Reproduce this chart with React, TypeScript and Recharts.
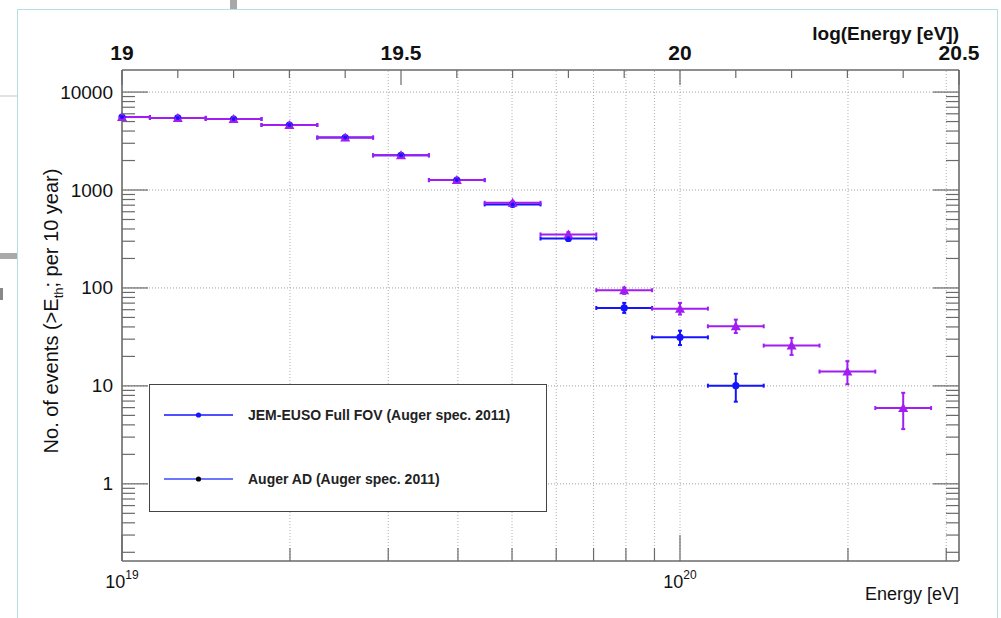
import React from 'react';
import { ScatterChart, Scatter, XAxis, YAxis, ErrorBar, ReferenceLine } from 'recharts';

// ---- data ----
const logEnergy = [19.0, 19.1, 19.2, 19.3, 19.4, 19.5, 19.6, 19.7, 19.8, 19.9, 20.0, 20.1, 20.2, 20.3, 20.4];
const augerAD = [5560, 5450, 5310, 4610, 3430, 2260, 1262, 740, 352, 94.8, 61.5, 40.6, 25.8, 14.0, 5.94];
const augerADLow = [5485, 5376, 5237, 4542, 3371, 2212, 1226, 713, 333, 87, 53.5, 34.7, 20.7, 10.4, 3.62];
const augerADHigh = [5635, 5524, 5383, 4678, 3489, 2308, 1298, 767, 371, 101, 70.4, 47.5, 30.9, 17.9, 8.5];
const jemEuso = [5560, 5450, 5310, 4610, 3430, 2260, 1262, 713, 320, 62.5, 31.3, 10.05];
const jemEusoLow = [5485, 5376, 5237, 4542, 3371, 2212, 1226, 686, 302, 55.6, 26.1, 6.9];
const jemEusoHigh = [5635, 5524, 5383, 4678, 3489, 2308, 1298, 740, 338, 70.4, 36.6, 13.3];
const binHalfWidth = 0.05;

// ---- axes ----
const energyTicks = [1e19, 2e19, 3e19, 4e19, 5e19, 6e19, 7e19, 8e19, 9e19, 1e20, 2e20, 3e20];
const majorEnergyExp = [19, 20];
const topTicks = [19.0, 19.1, 19.2, 19.3, 19.4, 19.5, 19.6, 19.7, 19.8, 19.9, 20.0, 20.1, 20.2, 20.3, 20.4, 20.5];
const topLabels = ['19', '19.5', '20', '20.5'];
const majorCounts = [1, 10, 100, 1000, 10000];
const minorMultipliers = [2, 3, 4, 5, 6, 7, 8, 9];
const xDomain = [19, 20.5];
const yDomain = [0.163, 16800];

const VIOLET = '#a21df2';
const BLUE = '#1414ff';
const AXIS = '#6a6a6a';
const FONT = '"Liberation Sans", Arial, Helvetica, sans-serif';

const countTicks: number[] = [];
[0.1, 1, 10, 100, 1000].forEach((d) => {
  if (d >= 1) countTicks.push(d);
  minorMultipliers.forEach((m) => countTicks.push(+(d * m).toPrecision(6)));
});
countTicks.push(10000);

const bottomTickValues = energyTicks.map((e) => Math.log10(e));
const gridX = bottomTickValues.slice(1);

const violetData = logEnergy.map((x, i) => ({
  x,
  y: augerAD[i],
  xe: [Math.min(binHalfWidth, x - xDomain[0]), binHalfWidth],
  ye: [augerAD[i] - augerADLow[i], augerADHigh[i] - augerAD[i]],
}));
const blueData = jemEuso.map((y, i) => ({
  x: logEnergy[i],
  y,
  xe: [Math.min(binHalfWidth, logEnergy[i] - xDomain[0]), binHalfWidth],
  ye: [y - jemEusoLow[i], jemEusoHigh[i] - y],
}));

const isMajorCount = (v: number) => majorCounts.some((m) => Math.abs(m - v) / m < 1e-6);

const LeftTick = (props: any) => {
  const { x, y, payload } = props;
  const v = payload.value;
  const major = isMajorCount(v);
  return (
    <g>
      <line x1={x} x2={x + (major ? 26 : 13)} y1={y} y2={y} stroke={AXIS} strokeWidth={1.2} />
      {major && (
        <text x={x - 9} y={y} textAnchor="end" dominantBaseline="central" fontSize={19} fontFamily={FONT} fill="#111">
          {String(v)}
        </text>
      )}
    </g>
  );
};

const RightTick = (props: any) => {
  const { x, y, payload } = props;
  const major = isMajorCount(payload.value);
  return <line x1={x} x2={x - (major ? 26 : 13)} y1={y} y2={y} stroke={AXIS} strokeWidth={1.2} />;
};

const BottomTick = (props: any) => {
  const { x, y, payload } = props;
  const v = payload.value;
  const exp = Math.round(v);
  const major = Math.abs(v - exp) < 1e-9 && majorEnergyExp.includes(exp);
  return (
    <g>
      <line x1={x} x2={x} y1={y} y2={y - (major ? 26 : 13)} stroke={AXIS} strokeWidth={1.2} />
      {major && (
        <text x={x} y={y + 27} textAnchor="middle" fontSize={18} fontFamily={FONT} fill="#111">
          <tspan>10</tspan>
          <tspan dy={-9} fontSize={12}>{exp}</tspan>
        </text>
      )}
    </g>
  );
};

const TopTick = (props: any) => {
  const { x, y, payload } = props;
  const v = payload.value;
  const lbl = topLabels.find((t) => Math.abs(parseFloat(t) - v) < 1e-6);
  const major = lbl !== undefined;
  return (
    <g>
      <line x1={x} x2={x} y1={y} y2={y + (major ? 15 : 8)} stroke={AXIS} strokeWidth={1.2} />
      {major && (
        <text x={x} y={y - 10} textAnchor="middle" fontSize={21} fontWeight="bold" fontFamily={FONT} fill="#111">
          {lbl}
        </text>
      )}
    </g>
  );
};

const TriangleShape = (props: any) => {
  const { cx, cy } = props;
  if (cx == null || cy == null) return <g />;
  return <polygon points={`${cx - 5},${cy + 4} ${cx + 5},${cy + 4} ${cx},${cy - 5}`} fill={VIOLET} />;
};
const EmptyShape = () => <g />;
const BigDotShape = (props: any) => {
  const { cx, cy } = props;
  if (cx == null || cy == null) return <g />;
  return <circle cx={cx} cy={cy} r={3.6} fill={BLUE} />;
};
const SmallDotShape = (props: any) => {
  const { cx, cy } = props;
  if (cx == null || cy == null) return <g />;
  return <circle cx={cx} cy={cy} r={2} fill={BLUE} />;
};

export default function App() {
  return (
    <div style={{ position: 'absolute', left: 0, top: 0, width: 1001, height: 618, background: '#fff', overflow: 'hidden', fontFamily: FONT }}>
      {/* slide frame and screenshot artifacts */}
      <div style={{ position: 'absolute', left: 17, top: 9, width: 981, height: 640, border: '1.5px solid #b5dfe3', boxSizing: 'border-box' }} />
      <div style={{ position: 'absolute', left: 230, top: 0, width: 7, height: 9, background: '#a8a8a8' }} />
      <div style={{ position: 'absolute', left: 0, top: 95, width: 17, height: 2, background: '#e2e2e2' }} />
      <div style={{ position: 'absolute', left: 0, top: 253, width: 17, height: 6, background: '#a9a9a9' }} />
      <div style={{ position: 'absolute', left: 0, top: 288, width: 3, height: 12, background: '#888' }} />

      <div style={{ position: 'absolute', left: 0, top: 0 }}>
        <ScatterChart width={1001} height={618} margin={{ top: 69, right: 41, bottom: 56, left: 121 }}>
          <XAxis
            xAxisId="bottom"
            dataKey="x"
            type="number"
            domain={xDomain}
            ticks={bottomTickValues}
            interval={0}
            height={1}
            tickSize={0}
            tickMargin={0}
            tickLine={false}
            tick={<BottomTick />}
            axisLine={{ stroke: AXIS, strokeWidth: 1.6 }}
          />
          <XAxis
            xAxisId="top"
            orientation="top"
            dataKey="x"
            type="number"
            domain={xDomain}
            ticks={topTicks}
            interval={0}
            height={1}
            tickSize={0}
            tickMargin={0}
            tickLine={false}
            tick={<TopTick />}
            axisLine={{ stroke: AXIS, strokeWidth: 1.6 }}
          />
          <YAxis
            yAxisId="left"
            dataKey="y"
            type="number"
            scale="log"
            domain={yDomain}
            ticks={countTicks}
            interval={0}
            width={1}
            tickSize={0}
            tickMargin={0}
            tickLine={false}
            tick={<LeftTick />}
            axisLine={{ stroke: AXIS, strokeWidth: 1.6 }}
          />
          <YAxis
            yAxisId="right"
            orientation="right"
            dataKey="y"
            type="number"
            scale="log"
            domain={yDomain}
            ticks={countTicks}
            interval={0}
            width={1}
            tickSize={0}
            tickMargin={0}
            tickLine={false}
            tick={<RightTick />}
            axisLine={{ stroke: AXIS, strokeWidth: 1.6 }}
          />
          {gridX.map((v) => (
            <ReferenceLine key={`gx${v}`} xAxisId="bottom" yAxisId="left" x={v} stroke="#b0b0b0" strokeDasharray="1 2" />
          ))}
          {majorCounts.map((v) => (
            <ReferenceLine key={`gy${v}`} xAxisId="bottom" yAxisId="left" y={v} stroke="#a0a0a0" strokeDasharray="1 2" />
          ))}
          {/* invisible series binding the top/right frame axes */}
          <Scatter name="frame" xAxisId="top" yAxisId="right" data={violetData} shape={<EmptyShape />} isAnimationActive={false} legendType="none" />
          <Scatter name="JEM-EUSO Full FOV (Auger spec. 2011)" xAxisId="bottom" yAxisId="left" data={blueData} shape={<BigDotShape />} isAnimationActive={false}>
            <ErrorBar dataKey="xe" direction="x" width={2} stroke={BLUE} strokeWidth={2} isAnimationActive={false} />
            <ErrorBar dataKey="ye" direction="y" width={2} stroke={BLUE} strokeWidth={2} isAnimationActive={false} />
          </Scatter>
          <Scatter name="Auger AD (Auger spec. 2011)" xAxisId="bottom" yAxisId="left" data={violetData} shape={<TriangleShape />} isAnimationActive={false}>
            <ErrorBar dataKey="xe" direction="x" width={2} stroke={VIOLET} strokeWidth={2} isAnimationActive={false} />
            <ErrorBar dataKey="ye" direction="y" width={2} stroke={VIOLET} strokeWidth={2} isAnimationActive={false} />
          </Scatter>
          <Scatter name="JEM-EUSO markers" xAxisId="bottom" yAxisId="left" data={blueData} shape={<SmallDotShape />} isAnimationActive={false} />
        </ScatterChart>
      </div>

      {/* axis titles */}
      <svg width={1001} height={618} style={{ position: 'absolute', left: 0, top: 0, pointerEvents: 'none' }}>
        <text x={959} y={40} textAnchor="end" fontSize={19} fontWeight="bold" fontFamily={FONT} fill="#111">
          log(Energy [eV])
        </text>
        <text x={959} y={600} textAnchor="end" fontSize={18} fontFamily={FONT} fill="#111">
          Energy [eV]
        </text>
        <text x={58} y={311} transform="rotate(-90 58 311)" textAnchor="middle" fontSize={20} fontFamily={FONT} fill="#111">
          <tspan>No. of events (&gt;E</tspan>
          <tspan dy={5} fontSize={13}>th</tspan>
          <tspan dy={-5}>; per 10 year)</tspan>
        </text>
      </svg>

      {/* legend */}
      <svg width={398} height={128} style={{ position: 'absolute', left: 149, top: 384 }}>
        <rect x={0.5} y={0.5} width={397} height={127} fill="#fff" stroke="#444" strokeWidth={1} />
        <line x1={15} x2={84} y1={31} y2={31} stroke={BLUE} strokeWidth={1.6} />
        <circle cx={49.5} cy={31} r={2.6} fill={BLUE} />
        <text x={99} y={31} dominantBaseline="central" fontSize={14} fontWeight="bold" fontFamily={FONT} fill="#222">
          JEM-EUSO Full FOV (Auger spec. 2011)
        </text>
        <line x1={15} x2={84} y1={95} y2={95} stroke="#3a48ff" strokeWidth={1.3} />
        <circle cx={49.5} cy={95} r={2.6} fill="#000" />
        <text x={99} y={95} dominantBaseline="central" fontSize={14} fontWeight="bold" fontFamily={FONT} fill="#222">
          Auger AD (Auger spec. 2011)
        </text>
      </svg>
    </div>
  );
}
